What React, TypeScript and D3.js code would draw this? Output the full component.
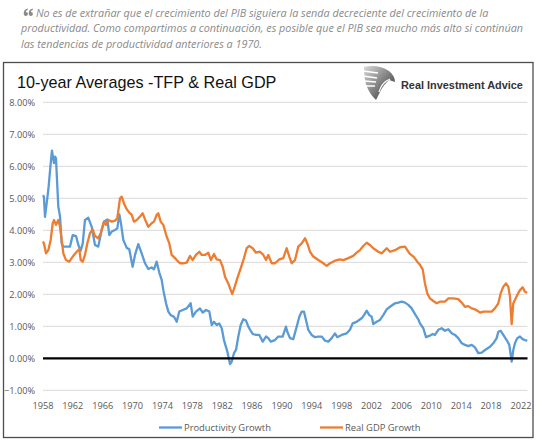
import React from "react";
import * as d3 from "d3";

const quoteLines = [
  "No es de extrañar que el crecimiento del PIB siguiera la senda decreciente del crecimiento de la",
  "productividad. Como compartimos a continuación, es posible que el PIB sea mucho más alto si continúan",
  "las tendencias de productividad anteriores a 1970.",
];
const chartTitle = "10-year Averages -TFP & Real GDP";
const brandName = "Real Investment Advice";
const seriesNames = ["Productivity Growth", "Real GDP Growth"];

const xTicks = [1958, 1962, 1966, 1970, 1974, 1978, 1982, 1986, 1990, 1994, 1998, 2002, 2006, 2010, 2014, 2018, 2022];
const yTicks = [-1, 0, 1, 2, 3, 4, 5, 6, 7, 8];

const productivityYears = [
  1958.0, 1958.12, 1958.27, 1958.71, 1959.03, 1959.2, 1959.47, 1959.61, 1959.74, 1959.83, 1960.05, 1960.28, 1960.5, 1960.72,
  1961.61, 1961.98, 1962.42, 1962.73, 1963.05, 1963.32, 1963.62, 1964.07, 1964.52, 1964.96, 1965.4, 1965.86, 1966.17,
  1966.61, 1966.88, 1967.2, 1967.64, 1967.95, 1968.22, 1968.45, 1968.75, 1969.21, 1969.55, 1970.0, 1970.32, 1970.76,
  1971.21, 1971.66, 1972.1, 1972.55, 1972.86, 1973.22, 1973.57, 1973.89, 1974.11, 1974.47, 1974.78, 1975.1, 1975.54,
  1975.9, 1976.25, 1976.7, 1977.24, 1977.77, 1978.04, 1978.48, 1979.02, 1979.38, 1979.82, 1980.27, 1980.59, 1980.89,
  1981.26, 1981.6, 1981.93, 1982.23, 1982.68, 1983.04, 1983.26, 1983.57, 1983.84, 1984.15, 1984.47, 1984.82, 1985.18,
  1985.49, 1985.81, 1986.08, 1986.52, 1986.96, 1987.42, 1987.86, 1988.16, 1988.49, 1989.06, 1989.5, 1990.09, 1990.53,
  1990.71, 1991.07, 1991.51, 1991.97, 1992.32, 1992.64, 1992.94, 1993.21, 1993.52, 1993.97, 1994.42, 1994.86, 1995.31,
  1995.76, 1996.2, 1996.65, 1997.09, 1997.4, 1997.99, 1998.66, 1999.1, 1999.46, 1999.99, 2000.67, 2000.98, 2001.34,
  2001.69, 2002.01, 2002.22, 2002.68, 2003.12, 2003.56, 2004.02, 2004.46, 2005.13, 2005.57, 2006.03, 2006.47, 2006.91,
  2007.36, 2007.81, 2008.25, 2008.47, 2008.92, 2009.28, 2009.72, 2010.18, 2010.48, 2010.93, 2011.38, 2011.82, 2012.26,
  2012.72, 2013.16, 2013.6, 2014.06, 2014.5, 2014.94, 2015.4, 2015.84, 2016.28, 2016.74, 2017.18, 2017.85, 2018.29,
  2018.74, 2018.96, 2019.28, 2019.63, 2020.08, 2020.43, 2020.75, 2020.97, 2021.19, 2021.5, 2021.86, 2022.22, 2022.53,
  2022.84,
];
const productivityValues = [
  5.1, 5.05, 4.42, 5.26, 6.09, 6.49, 6.1, 6.3, 6.25, 5.8, 4.74, 4.43, 3.59, 3.49,
  3.49, 3.85, 3.82, 3.54, 3.36, 3.59, 4.32, 4.39, 4.11, 3.54, 3.49, 4.01, 4.27,
  4.34, 3.85, 3.96, 4.01, 4.06, 4.5, 4.2, 3.7, 3.45, 3.41, 2.86, 3.23, 3.57,
  3.28, 2.97, 2.79, 2.84, 2.78, 3.02, 2.68, 2.45, 2.13, 1.72, 1.46, 1.35, 1.3,
  1.14, 1.46, 1.51, 1.56, 1.72, 1.3, 1.46, 1.56, 1.43, 1.51, 1.46, 1.04, 1.14,
  1.04, 1.09, 0.94, 0.57, 0.21, -0.18, -0.11, 0.16, 0.26, 0.68, 1.04, 1.22, 1.18,
  0.99, 0.86, 0.76, 0.73, 0.73, 0.52, 0.68, 0.63, 0.52, 0.57, 0.68, 0.68, 0.99,
  0.83, 0.63, 0.6, 0.99, 1.3, 1.46, 1.46, 1.2, 0.89, 0.73, 0.66, 0.68, 0.68,
  0.55, 0.52, 0.63, 0.78, 0.66, 0.73, 0.78, 0.89, 1.09, 1.14, 1.25, 1.35, 1.49,
  1.35, 1.3, 1.07, 1.14, 1.2, 1.35, 1.53, 1.61, 1.72, 1.74, 1.77, 1.74, 1.67,
  1.56, 1.38, 1.22, 1.09, 0.94, 0.66, 0.7, 0.76, 0.73, 0.89, 0.94, 0.86, 0.91,
  0.78, 0.73, 0.63, 0.47, 0.42, 0.38, 0.42, 0.34, 0.16, 0.18, 0.26, 0.36, 0.47,
  0.63, 0.83, 0.86, 0.73, 0.57, 0.42, -0.1, 0.26, 0.47, 0.63, 0.68, 0.6, 0.57,
  0.55,
];

const gdpYears = [
  1958.0, 1958.13, 1958.4, 1958.71, 1959.03, 1959.3, 1959.47, 1959.74, 1960.05, 1960.28, 1960.5, 1960.72, 1961.08, 1961.52,
  1961.84, 1962.15, 1962.51, 1962.86, 1963.05, 1963.32, 1963.62, 1963.93, 1964.29, 1964.65, 1964.96, 1965.4, 1965.73,
  1966.17, 1966.43, 1966.74, 1967.2, 1967.64, 1967.95, 1968.31, 1968.54, 1968.84, 1969.21, 1969.55, 1969.88, 1970.18,
  1970.55, 1970.99, 1971.35, 1971.66, 1972.1, 1972.55, 1972.86, 1973.22, 1973.44, 1973.76, 1974.11, 1974.56, 1974.91,
  1975.23, 1975.67, 1976.11, 1976.34, 1976.78, 1977.24, 1977.68, 1978.04, 1978.48, 1978.93, 1979.25, 1979.69, 1980.13,
  1980.49, 1980.89, 1981.26, 1981.7, 1982.06, 1982.37, 1982.81, 1983.13, 1983.34, 1983.61, 1984.01, 1984.47, 1984.91,
  1985.27, 1985.62, 1986.08, 1986.52, 1987.05, 1987.5, 1987.86, 1988.16, 1988.62, 1989.06, 1989.64, 1990.17, 1990.63,
  1990.98, 1991.3, 1991.74, 1992.18, 1992.64, 1993.08, 1993.39, 1993.75, 1994.19, 1994.86, 1995.53, 1995.98, 1996.43,
  1997.09, 1997.76, 1998.21, 1998.87, 1999.54, 1999.99, 2000.44, 2000.88, 2001.34, 2001.78, 2002.22, 2002.89, 2003.35,
  2004.02, 2004.46, 2005.13, 2005.8, 2006.47, 2006.91, 2007.14, 2007.67, 2008.11, 2008.47, 2008.84, 2009.14, 2009.45,
  2009.81, 2010.26, 2010.71, 2011.15, 2011.82, 2012.26, 2012.93, 2013.6, 2014.06, 2014.5, 2014.94, 2015.4, 2015.84,
  2016.51, 2016.95, 2017.62, 2018.07, 2018.51, 2018.96, 2019.28, 2019.63, 2019.99, 2020.3, 2020.52, 2020.75, 2020.97,
  2021.19, 2021.5, 2021.86, 2022.22, 2022.53, 2022.84,
];
const gdpValues = [
  3.65, 3.59, 3.28, 3.38, 3.7, 4.22, 4.32, 4.17, 4.32, 4.11, 3.7, 3.28, 3.07, 3.02,
  3.13, 3.23, 3.33, 3.41, 3.07, 3.02, 3.23, 3.59, 3.91, 4.03, 3.82, 3.75, 3.91,
  4.27, 4.17, 4.32, 4.27, 4.3, 4.38, 5.0, 5.05, 4.84, 4.66, 4.55, 4.48, 4.27,
  4.32, 4.43, 4.53, 4.34, 4.11, 4.22, 4.27, 4.48, 4.53, 4.27, 4.17, 3.8, 3.59,
  3.23, 3.13, 3.02, 2.97, 2.97, 2.99, 3.2, 3.07, 3.23, 3.33, 3.23, 3.23, 3.3,
  3.07, 3.26, 3.09, 3.07, 2.86, 2.55, 2.34, 2.13, 2.01, 2.19, 2.5, 2.81, 3.13,
  3.44, 3.51, 3.44, 3.3, 3.33, 3.23, 3.07, 3.23, 2.97, 2.97, 3.09, 3.13, 3.44,
  3.18, 2.97, 3.07, 3.49, 3.59, 3.75, 3.59, 3.33, 3.18, 3.07, 2.97, 2.89, 2.97,
  3.05, 3.09, 3.07, 3.13, 3.2, 3.3, 3.38, 3.51, 3.61, 3.54, 3.44, 3.33, 3.28,
  3.44, 3.33, 3.38, 3.47, 3.49, 3.33, 3.26, 3.16, 3.02, 2.92, 2.78, 2.34, 2.03,
  1.87, 1.79, 1.72, 1.77, 1.77, 1.87, 1.87, 1.85, 1.74, 1.61, 1.63, 1.56, 1.53,
  1.43, 1.46, 1.46, 1.46, 1.56, 1.72, 2.03, 2.24, 2.34, 2.24, 1.93, 1.07, 1.72,
  1.82, 1.98, 2.13, 2.22, 2.08, 2.05,
];

const W = 543;
const H = 443;
const BLUE = "#5B9BD5";
const ORANGE = "#ED7D31";

export default function App() {
  const x = d3.scaleLinear().domain([1958, 2022]).range([43, 521]);
  const y = d3.scaleLinear().domain([-1, 8]).range([390.3, 102.3]);
  const plotLeft = 43;
  const plotRight = 527.5;

  const line = d3
    .line<[number, number]>()
    .x((d) => x(d[0]))
    .y((d) => y(d[1]));

  const prod: [number, number][] = productivityYears.map((yr, i) => [yr, productivityValues[i]]);
  const gdp: [number, number][] = gdpYears.map((yr, i) => [yr, gdpValues[i]]);

  const labelFont = "'Open Sans', sans-serif";

  const quoteMark = (ox: number) =>
    `M${ox + 0.2},13.6 C${ox + 0.2},11 ${ox + 1.4},9.4 ${ox + 4.2},8.6 L${ox + 4.4},9.8 ` +
    `C${ox + 3},10.4 ${ox + 2.4},11.2 ${ox + 2.4},12 ` +
    `C${ox + 3.6},12 ${ox + 4.4},12.8 ${ox + 4.4},13.9 C${ox + 4.4},15.1 ${ox + 3.5},15.9 ${ox + 2.3},15.9 ` +
    `C${ox + 1},15.9 ${ox + 0.2},15 ${ox + 0.2},13.6 Z`;

  return (
    <svg
      width={W}
      height={H}
      style={{ position: "absolute", left: 0, top: 0, background: "#fff" }}
      xmlns="http://www.w3.org/2000/svg"
    >
      <defs>
        <linearGradient id="eagleGrad" x1="0" y1="0" x2="1" y2="1">
          <stop offset="0%" stopColor="#d8d8d8" />
          <stop offset="55%" stopColor="#7a7a7a" />
          <stop offset="100%" stopColor="#2a2a2a" />
        </linearGradient>
      </defs>
      <rect x={0} y={0} width={W} height={H} fill="#fff" />

      {/* quote icon */}
      <path d={quoteMark(23.5) + " " + quoteMark(28.5)} fill="#8a8a8a" />
      {quoteLines.map((t, i) => (
        <text
          key={i}
          x={i === 0 ? 36 : 21}
          y={16.5 + i * 15.5}
          fontFamily={labelFont}
          fontStyle="italic"
          fontSize={10.8}
          fill="#8a8a8a"
        >
          {t}
        </text>
      ))}

      {/* frame */}
      <rect x={3.5} y={62.5} width={529.5} height={375} fill="#fff" stroke="#4d4d4d" strokeWidth={1.3} />

      {/* title */}
      <text x={17} y={87.5} fontFamily="'Liberation Sans', Arial, sans-serif" fontSize={16.2} fill="#111">
        {chartTitle}
      </text>

      {/* gridlines */}
      {yTicks
        .filter((v) => v !== 0)
        .map((v) => (
          <line key={v} x1={plotLeft} x2={plotRight} y1={y(v)} y2={y(v)} stroke="#d9d9d9" strokeWidth={1} />
        ))}

      {/* logo */}
      <g transform="translate(362,65)">
        <path
          d="M2,2 C10,0 20,1 27,6 C31,9 33,13 33,17 L27,15 C24,18 20,22 18,27 C16,31 15,33 14,35 C10,31 7,27 5,22 C3,17 2,10 2,2 Z"
          fill="url(#eagleGrad)"
        />
        <path d="M1,6 L16,8 M1,11 L15,13 M2,16 L14,17 M3,21 L13,21" stroke="#fff" strokeWidth={1.3} />
        <path d="M17,27 C19,20 23,16 28,14" stroke="#fff" strokeWidth={1.2} fill="none" />
      </g>
      <text x={401} y={89} fontFamily="'Liberation Sans', Arial, sans-serif" fontWeight="bold" fontSize={10.9} fill="#333">
        {brandName}
      </text>

      {/* y labels */}
      {yTicks.map((v) => (
        <text
          key={v}
          x={35}
          y={y(v) + 3.2}
          textAnchor="end"
          fontFamily={labelFont}
          fontSize={9.2}
          fill="#595959"
        >
          {d3.format(".2f")(v) + "%"}
        </text>
      ))}

      {/* x labels */}
      {xTicks.map((t) => (
        <text
          key={t}
          x={x(t)}
          y={409}
          textAnchor="middle"
          fontFamily={labelFont}
          fontSize={9.2}
          fill="#595959"
        >
          {t}
        </text>
      ))}

      {/* series */}
      <path d={line(prod) || ""} fill="none" stroke={BLUE} strokeWidth={2.3} strokeLinejoin="round" />
      <path d={line(gdp) || ""} fill="none" stroke={ORANGE} strokeWidth={2.3} strokeLinejoin="round" />

      {/* zero line */}
      <line x1={plotLeft} x2={plotRight} y1={y(0)} y2={y(0)} stroke="#000" strokeWidth={2.2} />

      {/* legend */}
      <line x1={159} x2={182} y1={427.5} y2={427.5} stroke={BLUE} strokeWidth={2.3} />
      <text x={184} y={430.5} fontFamily={labelFont} fontSize={9.4} fill="#595959">
        {seriesNames[0]}
      </text>
      <line x1={320} x2={343} y1={427.5} y2={427.5} stroke={ORANGE} strokeWidth={2.3} />
      <text x={345} y={430.5} fontFamily={labelFont} fontSize={9.4} fill="#595959">
        {seriesNames[1]}
      </text>
    </svg>
  );
}
